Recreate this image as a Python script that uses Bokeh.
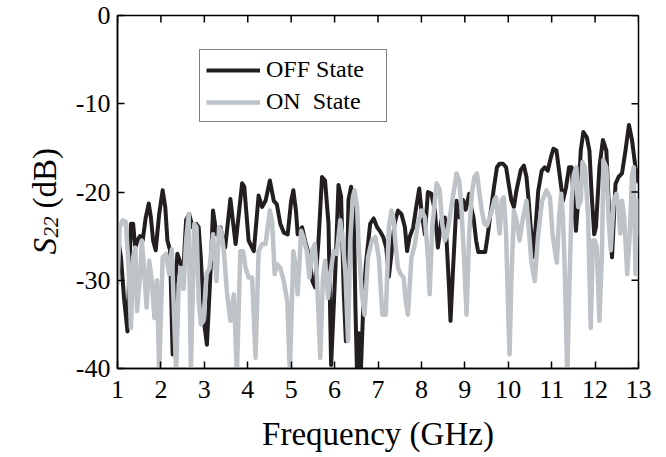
import math
from bokeh.plotting import figure
from bokeh.models import Range1d, FixedTicker, Legend, LegendItem, Label
from bokeh.layouts import row
from bokeh.embed import file_html
from bokeh.resources import INLINE

# ---- data ----
freq_off = [1.00, 1.08, 1.15, 1.23, 1.27, 1.31, 1.36, 1.41, 1.46, 1.52, 1.58, 1.65, 1.72, 1.77, 1.82,
            1.88, 1.96, 2.04, 2.10, 2.15, 2.21, 2.27, 2.33, 2.38, 2.46, 2.52, 2.58, 2.65, 2.73, 2.81,
            2.87, 2.92, 3.00, 3.06, 3.14, 3.20, 3.28, 3.37, 3.48, 3.60, 3.72, 3.87, 3.92, 4.02, 4.14,
            4.25, 4.33, 4.41, 4.51, 4.60, 4.67, 4.75, 4.83, 4.92, 5.00, 5.05, 5.11, 5.15, 5.25, 5.32,
            5.40, 5.49, 5.55, 5.63, 5.71, 5.78, 5.86, 5.92, 6.02, 6.09, 6.15, 6.21, 6.26, 6.32, 6.38,
            6.44, 6.48, 6.52, 6.56, 6.60, 6.66, 6.72, 6.82, 6.90, 6.98, 7.04, 7.12, 7.19, 7.25, 7.31,
            7.38, 7.46, 7.54, 7.62, 7.67, 7.73, 7.81, 7.88, 7.95, 8.00, 8.08, 8.15, 8.23, 8.31, 8.38,
            8.46, 8.54, 8.58, 8.64, 8.67, 8.73, 8.81, 8.88, 8.96, 9.02, 9.10, 9.16, 9.20, 9.26, 9.31,
            9.39, 9.47, 9.53, 9.59, 9.67, 9.74, 9.80, 9.88, 9.95, 10.01, 10.07, 10.13, 10.19, 10.29,
            10.36, 10.42, 10.47, 10.53, 10.57, 10.63, 10.69, 10.77, 10.84, 10.91, 10.98, 11.04, 11.11,
            11.19, 11.26, 11.33, 11.40, 11.46, 11.51, 11.56, 11.61, 11.67, 11.73, 11.81, 11.87, 11.92,
            11.98, 12.02, 12.10, 12.18, 12.26, 12.31, 12.39, 12.47, 12.54, 12.62, 12.70, 12.78, 12.85,
            12.93, 13.00]
s22_off = [-24.8, -27.4, -32.0, -35.8, -29.0, -23.6, -23.6, -26.3, -25.5, -25.0, -25.5, -22.9, -21.3, -22.9, -25.5,
           -26.6, -22.5, -19.8, -21.7, -25.5, -26.6, -38.4, -30.0, -27.0, -28.2, -28.5, -23.2, -22.5, -24.0, -23.6,
           -24.0, -27.5, -35.0, -37.3, -29.3, -22.1, -24.8, -24.0, -26.3, -20.8, -25.9, -19.0, -19.4, -25.5, -26.7,
           -20.4, -21.7, -21.0, -18.7, -21.0, -21.4, -23.6, -24.6, -24.8, -21.0, -19.8, -22.1, -24.8, -24.0, -25.5,
           -27.0, -30.1, -30.8, -25.5, -18.3, -18.7, -23.6, -39.6, -28.6, -19.2, -20.5, -31.2, -36.9, -20.9, -19.4,
           -21.7, -33.1, -41.0, -36.0, -41.0, -33.0, -28.2, -23.6, -23.0, -24.0, -24.4, -25.1, -26.3, -29.6, -27.0,
           -23.6, -22.1, -22.5, -24.0, -26.7, -25.1, -24.0, -21.7, -19.6, -22.1, -24.8, -20.0, -20.2, -22.1, -26.3,
           -23.2, -22.9, -25.5, -31.2, -34.6, -28.6, -21.0, -22.9, -20.9, -22.0, -20.2, -22.1, -22.9, -25.5, -26.8,
           -26.8, -26.8, -24.8, -22.5, -19.5, -17.2, -16.8, -16.8, -17.2, -19.1, -20.9, -21.7, -19.8, -17.5,
           -17.0, -18.3, -21.0, -24.8, -27.4, -24.0, -19.9, -17.6, -17.2, -17.6, -16.1, -15.1, -15.3,
           -18.3, -21.0, -19.5, -17.2, -17.2, -21.0, -24.4, -21.0, -15.3, -13.2, -13.8, -15.3, -20.2,
           -24.8, -24.0, -17.2, -14.1, -15.3, -20.9, -27.4, -19.1, -18.3, -17.9, -15.3, -12.4, -14.1,
           -17.2, -19.0]

freq_on = [1.00, 1.05, 1.12, 1.19, 1.25, 1.31, 1.36, 1.41, 1.45, 1.52, 1.56, 1.62, 1.67, 1.73, 1.79,
           1.85, 1.91, 1.96, 2.04, 2.12, 2.19, 2.25, 2.35, 2.41, 2.46, 2.52, 2.58, 2.64, 2.69, 2.77,
           2.82, 2.87, 2.92, 2.98, 3.05, 3.12, 3.20, 3.28, 3.34, 3.39, 3.45, 3.52, 3.60, 3.68, 3.75,
           3.83, 3.89, 3.95, 4.02, 4.10, 4.18, 4.25, 4.33, 4.41, 4.51, 4.56, 4.62, 4.68, 4.75, 4.83,
           4.91, 4.97, 5.05, 5.11, 5.15, 5.23, 5.28, 5.36, 5.42, 5.48, 5.54, 5.59, 5.67, 5.73, 5.78,
           5.85, 5.90, 5.98, 6.05, 6.13, 6.18, 6.25, 6.31, 6.36, 6.42, 6.46, 6.52, 6.55, 6.62, 6.69,
           6.77, 6.86, 6.94, 7.02, 7.10, 7.18, 7.25, 7.31, 7.36, 7.41, 7.46, 7.52, 7.59, 7.64, 7.69,
           7.77, 7.85, 7.92, 8.00, 8.08, 8.15, 8.19, 8.25, 8.35, 8.42, 8.48, 8.54, 8.59, 8.65, 8.75,
           8.81, 8.87, 8.92, 8.98, 9.04, 9.10, 9.16, 9.22, 9.28, 9.33, 9.39, 9.45, 9.51, 9.57, 9.62,
           9.68, 9.72, 9.76, 9.80, 9.85, 9.90, 9.95, 10.01, 10.03, 10.07, 10.13, 10.19, 10.26, 10.34,
           10.42, 10.47, 10.53, 10.61, 10.69, 10.78, 10.88, 10.96, 11.02, 11.07, 11.12, 11.17, 11.22,
           11.26, 11.30, 11.36, 11.40, 11.46, 11.51, 11.57, 11.61, 11.67, 11.71, 11.77, 11.84, 11.90,
           11.95, 12.00, 12.04, 12.10, 12.16, 12.19, 12.26, 12.31, 12.36, 12.43, 12.49, 12.54, 12.58,
           12.62, 12.67, 12.74, 12.80, 12.85, 12.89, 12.93, 12.97, 13.00]
s22_on = [-30.5, -24.0, -23.2, -23.4, -28.0, -35.4, -27.4, -26.3, -33.5, -29.5, -25.5, -29.3, -33.1, -27.8, -30.0,
          -34.3, -30.0, -40.5, -27.4, -27.0, -29.3, -26.5, -40.5, -30.5, -28.6, -31.0, -25.5, -22.5, -40.5, -23.6,
          -24.0, -32.4, -35.0, -34.6, -29.3, -28.6, -24.8, -30.1, -24.0, -24.4, -26.7, -31.3, -34.6, -31.6, -40.5,
          -26.7, -26.7, -28.6, -29.7, -29.7, -38.8, -26.7, -25.9, -25.9, -22.1, -23.2, -29.3, -28.2, -28.6, -30.1,
          -32.4, -40.5, -26.7, -28.6, -31.6, -24.4, -25.1, -26.7, -29.7, -26.7, -25.9, -29.3, -38.8, -29.9, -27.8,
          -32.0, -29.3, -26.7, -27.0, -23.2, -25.1, -29.3, -36.9, -25.5, -20.6, -19.8, -21.7, -25.5, -31.2, -33.9,
          -27.4, -25.5, -25.1, -27.5, -33.9, -33.9, -24.0, -22.1, -23.2, -26.3, -28.6, -29.3, -29.7, -32.4, -33.9,
          -27.4, -25.9, -23.6, -22.1, -22.9, -27.4, -31.6, -24.0, -19.0, -19.8, -23.6, -25.5, -24.8, -22.9, -19.8,
          -17.9, -18.7, -21.7, -27.4, -33.9, -24.8, -20.2, -18.3, -17.9, -19.9, -22.1, -23.6, -23.8, -22.9, -22.1,
          -20.9, -20.6, -22.9, -24.7, -20.9, -20.6, -24.7, -35.4, -38.4, -30.4, -22.1, -23.2, -25.5, -22.9,
          -21.0, -24.0, -27.8, -30.1, -24.8, -21.0, -19.8, -20.6, -24.8, -26.5, -28.0, -22.9, -20.2,
          -22.9, -28.5, -41.0, -32.3, -21.0, -18.0, -17.2, -21.7, -21.0, -16.6, -17.2, -22.9, -35.4,
          -25.5, -25.5, -26.3, -34.6, -26.6, -16.4, -17.2, -22.9, -26.6, -21.0, -20.2, -21.7, -24.7,
          -21.0, -22.9, -29.3, -24.7, -18.0, -17.2, -29.3, -21.0, -25.0]

x_ticks = list(range(1, 14))
x_tick_labels = [str(t) for t in x_ticks]
y_ticks = [-40, -30, -20, -10, 0]
y_tick_labels = ["-40", "-30", "-20", "-10", "0"]
x_min, x_max = 1, 13
y_min, y_max = -40, 0

FONT = "Liberation Serif"
OFF_COLOR = "#231f20"
ON_COLOR = "#bec3c8"
LEFT_W = 70  # width of the strip holding the rotated y-axis title
H = 457

p = figure(width=666 - LEFT_W, height=H, output_backend="svg", toolbar_location=None,
           x_range=Range1d(x_min, x_max), y_range=Range1d(y_min, y_max),
           min_border_left=117 - LEFT_W, min_border_right=28, min_border_top=15, min_border_bottom=89)
p.grid.visible = False
p.outline_line_color = "black"
p.outline_line_width = 1.5
p.background_fill_color = "white"
p.border_fill_color = "white"

r_off = p.line(freq_off, s22_off, line_color=OFF_COLOR, line_width=4, line_join="round")
r_on = p.line(freq_on, s22_on, line_color=ON_COLOR, line_width=4.5, line_join="round")

# mirrored inward ticks on the top and right edges
p.ray(x=x_ticks, y=[y_max] * len(x_ticks), length=7, length_units="screen",
      angle=-math.pi / 2, line_color="black", line_width=1.5)
p.ray(x=[x_max] * len(y_ticks), y=y_ticks, length=7, length_units="screen",
      angle=math.pi, line_color="black", line_width=1.5)


def style_axis(ax, ticks, labels):
    ax.ticker = FixedTicker(ticks=ticks)
    ax.minor_tick_line_color = None
    ax.major_tick_in = 7
    ax.major_tick_out = 0
    ax.major_tick_line_width = 1.5
    ax.major_tick_line_color = "black"
    ax.axis_line_width = 1.5
    ax.axis_line_color = "black"
    ax.major_label_text_font = FONT
    ax.major_label_text_font_size = "26px"
    ax.major_label_text_color = "black"
    ax.major_label_overrides = {t: l for t, l in zip(ticks, labels)}


xa = p.xaxis[0]
style_axis(xa, x_ticks, x_tick_labels)
xa.major_label_standoff = 12
xa.axis_label = "Frequency (GHz)"
xa.axis_label_text_font = FONT
xa.axis_label_text_font_size = "33px"
xa.axis_label_text_font_style = "normal"
xa.axis_label_text_color = "black"
xa.axis_label_standoff = 15

ya = p.yaxis[0]
style_axis(ya, y_ticks, y_tick_labels)
ya.major_label_standoff = 7

legend = Legend(items=[LegendItem(label="OFF State", renderers=[r_off]),
                       LegendItem(label="ON  State", renderers=[r_on])],
                location=(82, 246), label_text_font=FONT, label_text_font_size="24px",
                label_text_color="black", glyph_width=54, glyph_height=24, label_standoff=6,
                label_width=114, padding=6, spacing=5, margin=0,
                border_line_color="black", border_line_width=1, background_fill_alpha=1)
p.add_layout(legend)

# strip on the left carrying the y-axis title: italic S, subscript 22, then (dB)
t = figure(frame_width=LEFT_W, frame_height=H, output_backend="svg", toolbar_location=None,
           x_range=Range1d(0, LEFT_W), y_range=Range1d(0, H), min_border=0,
           x_axis_type=None, y_axis_type=None)
t.grid.visible = False
t.outline_line_color = None
t.background_fill_color = "white"
t.border_fill_color = "white"
ang = math.pi / 2
t.add_layout(Label(x=44, y=H - 239, text="S", angle=ang,
                   text_font=FONT, text_font_size="33px", text_font_style="italic",
                   text_align="left", text_baseline="alphabetic", text_color="black"))
t.add_layout(Label(x=50, y=H - 222, text="22", angle=ang,
                   text_font=FONT, text_font_size="21px", text_font_style="italic",
                   text_align="left", text_baseline="alphabetic", text_color="black"))
t.add_layout(Label(x=44, y=H - 193, text="(dB)", angle=ang,
                   text_font=FONT, text_font_size="33px",
                   text_align="left", text_baseline="alphabetic", text_color="black"))

layout = row(t, p, spacing=0)
open("out.html", "w").write(file_html(layout, INLINE))
